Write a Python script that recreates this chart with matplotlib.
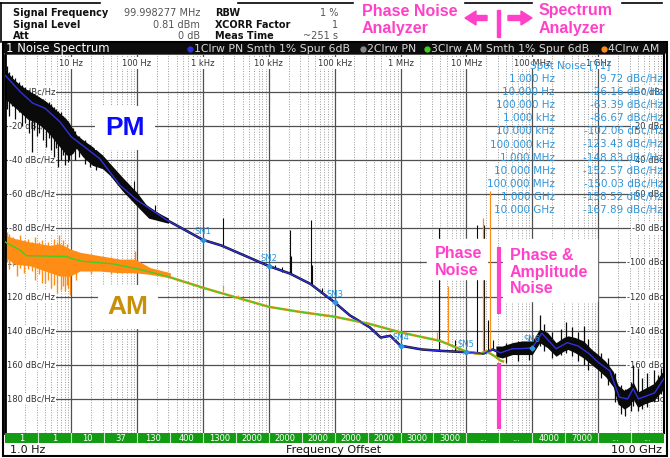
import numpy as np
import matplotlib
matplotlib.use('Agg')
import matplotlib.pyplot as plt
import matplotlib.transforms as mtransforms
from matplotlib.patches import Rectangle, FancyBboxPatch, Polygon

# ---- smoothed phase noise (trace 1), dBc/Hz
pn_freq = [1, 1.7, 2.6, 4, 6.8, 10, 27, 55, 100, 280, 1e3, 1.9e3, 1e4, 2.1e4,
           4.3e4, 1e5, 1.7e5, 3.4e5, 5e5, 7e5, 1e6, 2.1e6, 4e6, 1e7, 1.8e7,
           2.5e7, 3.3e7, 5e7, 7e7, 1e8, 1.4e8, 2.3e8, 3.4e8, 5e8, 7.3e8, 1e9,
           1.5e9, 2.1e9, 2.8e9, 3.4e9, 4.1e9, 7.2e9, 1e10]
pn_smooth = [9.7, 0, -6.5, -9.5, -17.6, -26.2, -39, -54.7, -63.4, -75, -86.7,
             -90, -102.1, -106.5, -112.6, -123.4, -131, -138, -144, -143,
             -148.8, -151, -151.8, -152.6, -153.5, -151, -153, -150.6, -150.5,
             -150, -141.5, -150.6, -147, -149, -153.5, -158.5, -163.5, -179,
             -180, -174, -180, -176.5, -167.9]

# ---- raw phase noise (trace 2): dense core at low offsets
pn_lo_freq = [1, 1.3, 1.7, 2.2, 3, 4, 5, 6, 7, 8.5, 10, 12, 15, 21, 30, 39,
              60, 100, 150, 300]
pn_lo_hi = [13, 8, 4, 1, -2, -5, -8, -11, -13, -16, -20, -25, -28, -32, -37,
            -42, -50, -59, -68, -74]
pn_lo_lo = [-4, -8, -12, -16, -18, -22, -26, -30, -33, -37, -37, -33, -38, -43,
            -45, -49, -58, -67, -74, -77]
# single noise excursions at low offsets
pn_lo_spk_f = [1.05, 1.15, 1.25, 1.4, 1.6, 1.8, 2.0, 2.3, 2.5, 2.7, 3.0, 3.3,
               3.7, 4.2, 4.6, 5.0, 5.5, 5.9, 6.4, 7.0, 7.6, 8.2, 8.8, 9.4,
               10.5, 11.5, 13, 16, 19, 24]
pn_lo_spk_a = [15, 12, 10, 8, 6, 4, 3, 1, 0, -1, -2, -3, -4, -6, -6, -7, -9,
               -10, -11, -12, -14, -15, -17, -18, -21, -23, -26, -28, -31, -34]
pn_lo_spk_b = [-10, -14, -8, -16, -12, -20, -18, -24, -35, -22, -26, -24, -28,
               -32, -27, -34, -38, -33, -44, -40, -37, -43, -41, -40, -36, -40,
               -38, -42, -44, -46]

# ---- raw phase noise: core at high offsets
pn_hi_freq = [2.8e7, 3.5e7, 5e7, 7e7, 1e8, 1.3e8, 1.7e8, 2.3e8, 3e8, 3.5e8,
              4.5e8, 6e8, 8e8, 1e9, 1.3e9, 1.7e9, 2e9, 2.5e9, 3e9, 3.4e9,
              4e9, 5e9, 7e9, 1e10]
pn_hi_hi = [-149, -149, -147, -146, -146, -139, -141, -147, -144, -143,
            -144, -146, -151, -154, -158, -164, -172, -175, -173, -170,
            -176, -174, -171, -163]
pn_hi_lo = [-155, -156, -154, -154, -154, -147, -150, -155, -152, -151,
            -153, -156, -160, -163, -167, -173, -183, -186, -184, -180,
            -185, -183, -181, -174]
pn_hi_spk_f = [4e7, 6e7, 9e7, 1.3e8, 1.5e8, 2e8, 2.7e8, 3.3e8, 4e8, 5e8, 6e8,
               7e8, 1.1e9, 1.4e9, 1.8e9, 2.2e9, 2.6e9, 3.2e9, 3.4e9, 4e9,
               4.6e9, 5.5e9, 7e9, 8e9, 9e9]
pn_hi_spk_a = [-147, -146, -143, -131, -136, -141, -139, -135, -138, -141,
               -137, -145, -153, -156, -165, -172, -174, -170, -160, -162,
               -168, -165, -163, -166, -162]
pn_hi_spk_b = [-159, -158, -157, -149, -152, -156, -154, -153, -155, -158,
               -160, -163, -168, -172, -182, -189, -190, -187, -184, -187,
               -186, -185, -182, -181, -177]

# ---- spurs on raw phase noise
pn_spur_freq = [90, 185, 2e3, 1.25e4, 1.6e4, 2.1e4, 2.2e4, 4.3e4, 4.5e4, 6.5e4,
                3.8e6, 6.7e6, 1.47e7, 1.83e7, 2.1e7, 2.5e7]
pn_spur_base = [-62, -72, -90, -103.5, -105.5, -106.5, -107, -112.6, -113, -118,
                -151.5, -152, -152.8, -153, -152, -151]
pn_spur_top = [-52, -66, -74, -101.5, -102.6, -81, -96, -75, -101.5, -115,
               -80, -145.5, -78, -78, -134, -145.5]

# ---- AM noise: smoothed (trace 3)
am_freq = [1, 1.7, 2.1, 8.5, 10, 15, 43, 100, 280, 1e3, 2.9e3, 1e4, 3e4, 1e5,
           3.4e5, 1e6, 4e6, 1e7, 1.6e7, 2e7, 2.7e7, 3.3e7, 3.6e7]
am_smooth = [-88, -93, -96, -96.5, -97.6, -99.3, -100.8, -103.7, -108, -114.8,
             -120, -126, -129, -131.8, -136, -141, -146, -152.3, -153.7, -152,
             -155, -157.6, -158]

# ---- AM raw (trace 4): dense core at low offsets
am_band_freq = [1, 1.4, 2.4, 4.8, 6.8, 9.6, 13.6, 27, 55, 93, 158, 320]
am_band_hi = [-84, -86, -88, -90, -89, -92, -94, -96, -98, -98, -103, -106]
am_band_lo = [-97, -101, -102, -106, -108, -108, -105, -105, -106, -106, -107, -109]
am_spk_f = [1.05, 1.15, 1.3, 1.5, 1.7, 1.9, 2.2, 2.5, 2.8, 3.2, 3.6, 4.0, 4.5,
            5.0, 5.4, 6.0, 6.5, 7.0, 7.5, 8.0, 8.5, 9.0, 9.7, 12, 20, 40, 93]
am_spk_a = [-82, -83, -85, -86, -84, -87, -86, -88, -85, -88, -87, -89, -88,
            -90, -86, -88, -84, -90, -87, -91, -89, -92, -93, -93, -95, -97, -93]
am_spk_b = [-100, -104, -102, -108, -103, -106, -104, -105, -110, -107, -112,
            -112, -110, -115, -113, -118, -106, -116, -114, -117, -113, -115,
            -119, -110, -107, -107, -106]

am_spur_freq = [2e3, 3.4e3, 3.6e6, 5.2e6, 1.8e7, 2.3e7]
am_spur_base = [-117, -121, -146, -147.5, -153.5, -152]
am_spur_top = [-113, -119, -141, -113.5, -74, -58]

# ---- spot noise table
spot_freq = [1, 10, 100, 1e3, 1e4, 1e5, 1e6, 1e7, 1e8, 1e9, 1e10]
spot_label = ['1.000 Hz', '10.000 Hz', '100.000 Hz', '1.000 kHz', '10.000 kHz',
              '100.000 kHz', '1.000 MHz', '10.000 MHz', '100.000 MHz',
              '1.000 GHz', '10.000 GHz']
spot_value = [9.72, -26.16, -63.39, -86.67, -102.06, -123.43, -148.83,
              -152.57, -150.03, -158.52, -167.89]
marker_names = ['SN1', 'SN2', 'SN3', 'SN4', 'SN5', 'SN6']
marker_index = [3, 4, 5, 6, 7, 8]

# ---- axis texts
y_grid = [0, -20, -40, -60, -80, -100, -120, -140, -160, -180]
top_freq = [10, 100, 1e3, 1e4, 1e5, 1e6, 1e7, 1e8, 1e9]
top_labels = ['10 Hz', '100 Hz', '1 kHz', '10 kHz', '100 kHz', '1 MHz',
              '10 MHz', '100 MHz', '1 GHz']
seg_counts = ['1', '1', '10', '37', '130', '400', '1300', '2000', '2000', '2000',
              '2000', '2000', '3000', '3000', '...', '...', '4000', '7000',
              '...', '...']

BLUE = '#3030e0'
GREEN = '#44cc22'
ORANGE = '#ff8c14'
PINK = '#ff40c8'
CYAN = '#2d96dc'
RAW = '#0a0a0a'
W, H = 670, 458

fig = plt.figure(figsize=(W / 100, H / 100), dpi=100)
fig.patch.set_facecolor('white')


def box(x0, y0, x1, y1):
    return [x0 / W, 1 - y1 / H, (x1 - x0) / W, (y1 - y0) / H]


X0, X1, Y0, Y1 = 5.3, 664.0, 55.0, 433.0
ax = fig.add_axes(box(X0, Y0, X1, Y1))
ax.set_xscale('log')
ax.set_xlim(1, 1e10)
ax.set_ylim(-200, 21.7)
ax.tick_params(which='both', length=0, labelbottom=False, labelleft=False)
ax.spines['top'].set_visible(False)
ax.spines['bottom'].set_visible(False)
ax.spines['left'].set_linewidth(2)
ax.spines['right'].set_linewidth(1.5)

# grid
for k in range(1, 10):
    ax.axvline(10.0 ** k, color='#505050', lw=0.9, zorder=0.5)
for k in range(0, 10):
    for m in range(2, 10):
        ax.axvline(m * 10.0 ** k, color='#9a9a9a', lw=0.7, ls=(0, (1, 1.6)), zorder=0.4)
for v in y_grid:
    ax.axhline(v, color='#505050', lw=0.9, zorder=0.5)

white = dict(facecolor='white', edgecolor='none', pad=0.8)
yl = mtransforms.blended_transform_factory(ax.transAxes, ax.transData)
xl = mtransforms.blended_transform_factory(ax.transData, ax.transAxes)
for v in y_grid:
    lab = f'{v} dBc/Hz'
    ax.text((55 - X0) / (X1 - X0), v, lab, transform=yl, ha='right', va='center',
            fontsize=6, color='#333333', bbox=white, zorder=1)
    ax.text((678 - X0) / (X1 - X0), v, lab, transform=yl, ha='right', va='center',
            fontsize=6, color='#333333', bbox=white, zorder=1, clip_on=True)
for f, lab in zip(top_freq, top_labels):
    ax.text(f, (Y1 - 63) / (Y1 - Y0), lab, transform=xl, ha='center', va='center',
            fontsize=6, color='#333333', bbox=white, zorder=1)

# raw phase noise (trace 2)
ax.fill_between(pn_lo_freq, pn_lo_lo, pn_lo_hi, color=RAW, lw=0, zorder=2)
ax.vlines(pn_lo_spk_f, pn_lo_spk_b, pn_lo_spk_a, color=RAW, lw=0.9, zorder=2)
ax.fill_between(pn_hi_freq, pn_hi_lo, pn_hi_hi, color=RAW, lw=0, zorder=2)
ax.vlines(pn_hi_spk_f, pn_hi_spk_b, pn_hi_spk_a, color=RAW, lw=0.9, zorder=2)
ax.plot(pn_freq, pn_smooth, color=RAW, lw=1.8, zorder=2)
ax.vlines(pn_spur_freq, pn_spur_base, pn_spur_top, color=RAW, lw=0.8, zorder=2)

# raw AM noise (trace 4)
ax.fill_between(am_band_freq, am_band_lo, am_band_hi, color=ORANGE, lw=0, zorder=2.5)
ax.vlines(am_spk_f, am_spk_b, am_spk_a, color=ORANGE, lw=1.0, zorder=2.5)
ax.plot(am_freq, am_smooth, color=ORANGE, lw=1.8, zorder=2.5)
ax.vlines(am_spur_freq, am_spur_base, am_spur_top, color=ORANGE, lw=0.9, zorder=2.5)

# smoothed traces 3 and 1
ax.plot(am_freq, am_smooth, color=GREEN, lw=1.0, zorder=3)
ax.plot(pn_freq, pn_smooth, color=BLUE, lw=1.0, zorder=3.5)

# spot noise markers
for name, i in zip(marker_names, marker_index):
    ax.plot(spot_freq[i], spot_value[i], marker='D', ms=2.5, color=CYAN, zorder=4)
    ax.annotate(name, (spot_freq[i], spot_value[i]), xytext=(0, 8),
                textcoords='offset pixels', ha='center', va='center',
                fontsize=6, color=CYAN, zorder=4)

# pink separator at the phase noise / spectrum analyzer boundary
ax.vlines([3.08e7, 3.08e7], [-130, -197.5], [-91, -159], color=PINK, lw=3, zorder=4)

# bottom green bar with averaging counts
axb = fig.add_axes(box(X0, 433, X1, 443))
axb.set_xscale('log')
axb.set_xlim(1, 1e10)
axb.set_ylim(0, 1)
axb.set_facecolor('#139c13')
axb.tick_params(which='both', length=0, labelbottom=False, labelleft=False)
for s in axb.spines.values():
    s.set_visible(False)
for k in range(1, 20):
    axb.axvline(10 ** (k / 2), color='#c8e8c8', lw=0.8)
for k, lab in enumerate(seg_counts):
    axb.text(10 ** ((k + 0.5) / 2), 0.45, lab, ha='center', va='center',
             fontsize=6, color='white')

# overlay in pixel coordinates
ov = fig.add_axes([0, 0, 1, 1], zorder=5)
ov.set_xlim(0, W)
ov.set_ylim(H, 0)
ov.axis('off')

# header
for x0, x1 in [(0, 100), (238, 353), (465, 532), (622, 662)]:
    ov.plot([x0, x1], [3, 3], color='black', lw=1.2)
ov.plot([1, 1], [3, 42], color='black', lw=1.2)
hdr_l = ['Signal Frequency', 'Signal Level', 'Att']
hdr_lv = ['99.998277 MHz', '0.81 dBm', '0 dB']
hdr_r = ['RBW', 'XCORR Factor', 'Meas Time']
hdr_rv = ['1 %', '1', '~251 s']
for i in range(3):
    y = 13 + i * 11.7
    ov.text(13, y, hdr_l[i], fontsize=7, fontweight='bold', color='#111111', va='center')
    ov.text(200, y, hdr_lv[i], fontsize=7, color='#555555', va='center', ha='right')
    ov.text(215, y, hdr_r[i], fontsize=7, fontweight='bold', color='#111111', va='center')
    ov.text(338, y, hdr_rv[i], fontsize=7, color='#555555', va='center', ha='right')

pf = dict(fontsize=11.5, fontweight='bold', color=PINK, family='Liberation Sans', va='center')
ov.text(362, 11, 'Phase Noise', **pf)
ov.text(362, 28.5, 'Analyzer', **pf)
ov.text(539, 11, 'Spectrum', **pf)
ov.text(539, 28.5, 'Analyzer', **pf)
ov.add_patch(Polygon([(465, 18), (476, 11), (476, 15.5), (487, 15.5), (487, 20.5),
                      (476, 20.5), (476, 25)], color=PINK))
ov.add_patch(Polygon([(532, 18), (521, 11), (521, 15.5), (508, 15.5), (508, 20.5),
                      (521, 20.5), (521, 25)], color=PINK))
ov.add_patch(Rectangle((496.5, 10), 3.5, 27, color=PINK))

# title bar
ov.add_patch(FancyBboxPatch((4, 42.5), 662, 11.5, boxstyle='round,pad=0,rounding_size=3',
                            fc='#0c0c0c', ec='#0c0c0c'))
ov.text(6, 48.5, '1 Noise Spectrum', fontsize=8.4, color='white', va='center')
leg_x = [190, 363, 427, 604]
leg_c = [BLUE, '#888888', GREEN, ORANGE]
leg_t = ['1Clrw PN Smth 1% Spur 6dB', '2Clrw PN', '3Clrw AM Smth 1% Spur 6dB', '4Clrw AM']
for x, c, t in zip(leg_x, leg_c, leg_t):
    ov.plot(x, 48.5, 'o', ms=3.5, color=c)
    ov.text(x + 4, 48.5, t, fontsize=7.8, color='#d8d8d8', va='center')

# spot noise table
ov.text(570, 66, 'Spot Noise [T1]', fontsize=7.5, color=CYAN, ha='center', va='center')
for i in range(len(spot_label)):
    y = 79 + i * 13.1
    ov.text(555, y, spot_label[i], fontsize=7.5, color=CYAN, ha='right', va='center')
    ov.text(663, y, f'{spot_value[i]:.2f} dBc/Hz', fontsize=7.5, color=CYAN,
            ha='right', va='center')

# PM / AM labels
big = dict(fontsize=19, fontweight='bold', family='Liberation Sans', ha='center',
           va='center', bbox=dict(facecolor='white', edgecolor='none', pad=7))
ov.text(125, 128, 'PM', color='#0a0aff', **big)
ov.text(128, 307, 'AM', color='#c8900a', **big)

# phase / amplitude noise region labels
ov.add_patch(Rectangle((427, 239), 60, 40, color='white'))
ov.add_patch(Rectangle((503, 239), 94, 62, color='white'))
pl = dict(fontsize=11.5, fontweight='bold', color=PINK, family='Liberation Sans',
          va='center', linespacing=1.15)
ov.text(435, 262, 'Phase\nNoise', **pl)
ov.text(510, 272, 'Phase &\nAmplitude\nNoise', **pl)

# frame and footer
ov.add_patch(Rectangle((3, 42), 664, 414, fill=False, ec='black', lw=1.5))
ov.text(10, 450, '1.0 Hz', fontsize=8, va='center', color='#111111')
ov.text(334, 450, 'Frequency Offset', fontsize=8, ha='center', va='center', color='#111111')
ov.text(662, 450, '10.0 GHz', fontsize=8, ha='right', va='center', color='#111111')

fig.savefig('out.png', dpi=100, facecolor='white')
